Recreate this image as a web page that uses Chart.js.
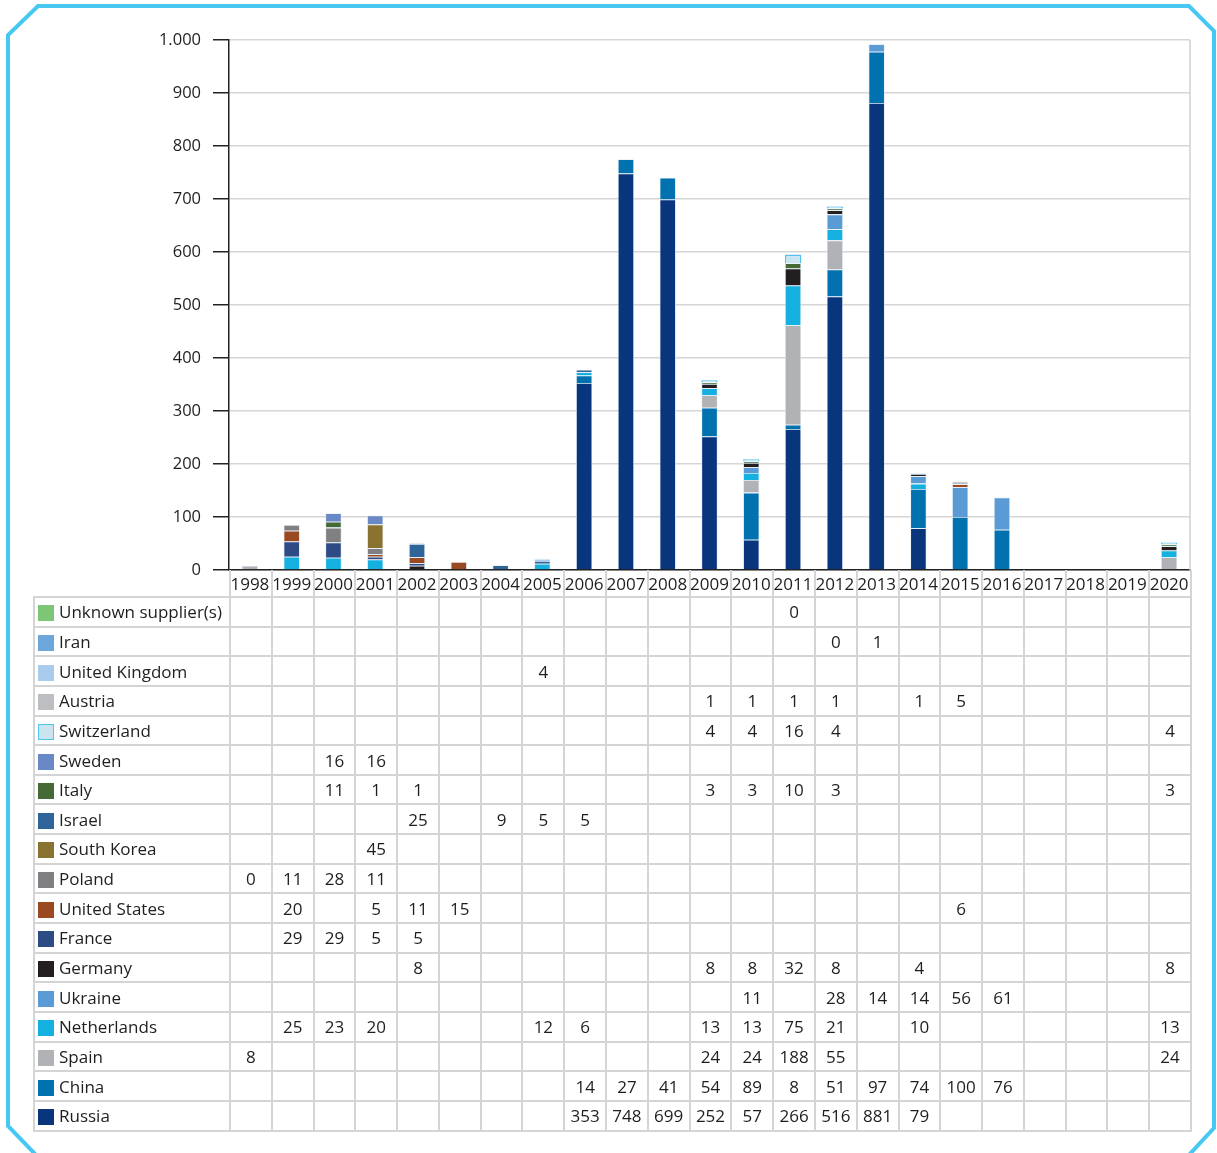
<!DOCTYPE html>
<html>
<head>
<meta charset="utf-8">
<script src="https://cdn.jsdelivr.net/npm/chart.js@4.4.1/dist/chart.umd.min.js"></script>
<style>
  body { margin: 0; background: #fff; font-family: "Open Sans", sans-serif; }
  #wrap { position: relative; width: 1217px; height: 1153px; overflow: hidden; }
  #chartBox { position: absolute; left: 0; top: 0; width: 1217px; height: 600px; }
  #frame { position: absolute; left: 0; top: 0; }
  #tbl { position: absolute; border-collapse: collapse; table-layout: fixed; font-size: 17px; color: #1e1e1e; }
  #tbl td { border: 2px solid #d4d4d4; padding: 0; text-align: center; white-space: nowrap; overflow: hidden; }
  #tbl tr.head td { border-top: none; border-bottom: none; }
  #tbl tr.head td.lab { border: none; }
  #tbl td.lab { text-align: left; padding-left: 3px; }
  .sw { display: inline-block; width: 16px; height: 16px; vertical-align: -3px; margin-right: 5px; box-sizing: border-box; }
</style>
</head>
<body>
<div id="wrap">
  <div id="chartBox"><canvas id="armsChart"></canvas></div>
  <table id="tbl"></table>
  <svg id="frame" width="1217" height="1153">
    <polyline points="37,1156 8,1126 8,35 38,6 1189,6 1214,31 1214,1128 1188,1156"
      fill="none" stroke="#46c8f2" stroke-width="4"/>
  </svg>
</div>
<script>
const N = null;
const years = ['1998','1999','2000','2001','2002','2003','2004','2005','2006','2007','2008','2009','2010','2011','2012','2013','2014','2015','2016','2017','2018','2019','2020'];

// one array per supplier, one value per year (null = no delivery)
const russia      = [N,N,N,N,N,N,N,N,353,748,699,252,57,266,516,881,79,N,N,N,N,N,N];
const china       = [N,N,N,N,N,N,N,N,14,27,41,54,89,8,51,97,74,100,76,N,N,N,N];
const spain       = [8,N,N,N,N,N,N,N,N,N,N,24,24,188,55,N,N,N,N,N,N,N,24];
const netherlands = [N,25,23,20,N,N,N,12,6,N,N,13,13,75,21,N,10,N,N,N,N,N,13];
const ukraine     = [N,N,N,N,N,N,N,N,N,N,N,N,11,N,28,14,14,56,61,N,N,N,N];
const germany     = [N,N,N,N,8,N,N,N,N,N,N,8,8,32,8,N,4,N,N,N,N,N,8];
const france      = [N,29,29,5,5,N,N,N,N,N,N,N,N,N,N,N,N,N,N,N,N,N,N];
const usa         = [N,20,N,5,11,15,N,N,N,N,N,N,N,N,N,N,N,6,N,N,N,N,N];
const poland      = [0,11,28,11,N,N,N,N,N,N,N,N,N,N,N,N,N,N,N,N,N,N,N];
const southKorea  = [N,N,N,45,N,N,N,N,N,N,N,N,N,N,N,N,N,N,N,N,N,N,N];
const israel      = [N,N,N,N,25,N,9,5,5,N,N,N,N,N,N,N,N,N,N,N,N,N,N];
const italy       = [N,N,11,1,1,N,N,N,N,N,N,3,3,10,3,N,N,N,N,N,N,N,3];
const sweden      = [N,N,16,16,N,N,N,N,N,N,N,N,N,N,N,N,N,N,N,N,N,N,N];
const switzerland = [N,N,N,N,N,N,N,N,N,N,N,4,4,16,4,N,N,N,N,N,N,N,4];
const austria     = [N,N,N,N,N,N,N,N,N,N,N,1,1,1,1,N,1,5,N,N,N,N,N];
const uk          = [N,N,N,N,N,N,N,4,N,N,N,N,N,N,N,N,N,N,N,N,N,N,N];
const iran        = [N,N,N,N,N,N,N,N,N,N,N,N,N,N,0,1,N,N,N,N,N,N,N];
const unknown     = [N,N,N,N,N,N,N,N,N,N,N,N,N,0,N,N,N,N,N,N,N,N,N];

const yTicks = [0,100,200,300,400,500,600,700,800,900,1000];

// bottom of the stack first
const series = [
  { label: 'Russia',              data: russia,      color: '#08357c' },
  { label: 'China',               data: china,       color: '#0171b0' },
  { label: 'Spain',               data: spain,       color: '#b1b2b5' },
  { label: 'Netherlands',         data: netherlands, color: '#14b1e0' },
  { label: 'Ukraine',             data: ukraine,     color: '#5b9bd5' },
  { label: 'Germany',             data: germany,     color: '#231f20' },
  { label: 'France',              data: france,      color: '#2e4b85' },
  { label: 'United States',       data: usa,         color: '#9a4a22' },
  { label: 'Poland',              data: poland,      color: '#808083' },
  { label: 'South Korea',         data: southKorea,  color: '#8a7230' },
  { label: 'Israel',              data: israel,      color: '#2f6499' },
  { label: 'Italy',               data: italy,       color: '#466a37' },
  { label: 'Sweden',              data: sweden,      color: '#6a88c6' },
  { label: 'Switzerland',         data: switzerland, color: '#cbe5f0', edge: '#4fc3ee' },
  { label: 'Austria',             data: austria,     color: '#bdbec2' },
  { label: 'United Kingdom',      data: uk,          color: '#a9ccec' },
  { label: 'Iran',                data: iran,        color: '#6ca6da' },
  { label: 'Unknown supplier(s)', data: unknown,     color: '#7dc675' },
];

const fmt = v => String(v).replace(/\B(?=(\d{3})+(?!\d))/g, '.');

const rightEdge = {
  id: 'rightEdge',
  afterDraw(chart) {
    const { ctx, chartArea: a } = chart;
    ctx.save();
    ctx.strokeStyle = '#d0d0d0';
    ctx.lineWidth = 1.5;
    ctx.beginPath();
    ctx.moveTo(a.right, a.top);
    ctx.lineTo(a.right, a.bottom);
    ctx.stroke();
    ctx.restore();
  }
};

const chart = new Chart(document.getElementById('armsChart'), {
  type: 'bar',
  data: {
    labels: years,
    datasets: series.map(s => ({
      label: s.label,
      data: s.data,
      backgroundColor: s.color,
      borderColor: s.edge || 'rgba(215,232,245,0.85)',
      borderWidth: s.edge ? 1.5 : 0.8,
      categoryPercentage: 1,
      barPercentage: 0.39,
    })),
  },
  options: {
    responsive: true, maintainAspectRatio: false, animation: false,
    layout: { padding: { top: 40, right: 27, bottom: 3, left: 0 } },
    plugins: { legend: { display: false }, tooltip: { enabled: false } },
    scales: {
      x: {
        stacked: true,
        grid: { display: false },
        border: { color: '#222', width: 1.5 },
        ticks: { color: '#1e1e1e', font: { family: 'Open Sans', size: 17 }, padding: -3, maxRotation: 0, autoSkip: false },
        afterFit: s => { s.height = 27; },
      },
      y: {
        stacked: true, min: 0, max: 1000,
        afterBuildTicks: s => { s.ticks = yTicks.map(v => ({ value: v })); },
        grid: { color: '#d6d6d6', lineWidth: 1.5, tickColor: '#222', tickLength: 16 },
        border: { color: '#222', width: 1.5 },
        ticks: { color: '#1e1e1e', font: { family: 'Open Sans', size: 16.5 }, padding: 12, callback: v => fmt(v) },
        afterFit: s => { s.width = 229; },
      },
    },
  },
  plugins: [rightEdge],
});

// data table under the plot, aligned to the category columns
(function buildTable() {
  const a = chart.chartArea;
  const tbl = document.getElementById('tbl');
  const tableLeft = 33;
  const colW = (a.right - a.left) / years.length;
  tbl.style.left = tableLeft + 'px';
  tbl.style.top = a.bottom + 'px';
  tbl.style.width = (a.right - tableLeft) + 'px';
  let html = '<colgroup><col style="width:' + (a.left - tableLeft) + 'px">';
  years.forEach(() => { html += '<col style="width:' + colW + 'px">'; });
  html += '</colgroup>';
  html += '<tr class="head" style="height:27px"><td class="lab"></td>' + years.map(() => '<td></td>').join('') + '</tr>';
  series.slice().reverse().forEach(s => {
    const sw = '<span class="sw" style="background:' + s.color + (s.edge ? ';border:1.5px solid ' + s.edge : '') + '"></span>';
    html += '<tr style="height:29.65px"><td class="lab">' + sw + s.label + '</td>' +
      s.data.map(v => '<td>' + (v === null ? '' : v) + '</td>').join('') + '</tr>';
  });
  tbl.innerHTML = html;
})();
</script>
</body>
</html>
